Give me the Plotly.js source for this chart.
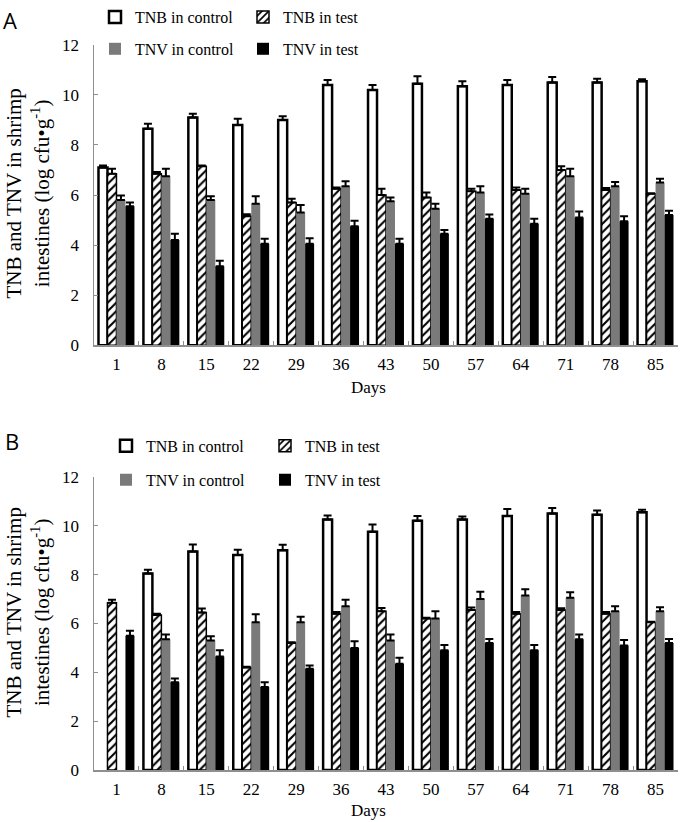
<!DOCTYPE html>
<html>
<head>
<meta charset="utf-8">
<script src="https://cdn.plot.ly/plotly-3.0.1.min.js"></script>
<style>html,body{margin:0;padding:0;background:#fff;}#chart{width:680px;height:822px;}</style>
</head>
<body>
<div id="chart"></div>
<script>
// Categories (days)
const days = ['1','8','15','22','29','36','43','50','57','64','71','78','85'];
const seriesNames = ['TNB in control','TNB in test','TNV in control','TNV in test'];

// Panel A values
const A_tnbControl = [7.1, 8.65, 9.1, 8.8, 9.0, 10.4, 10.2, 10.45, 10.35, 10.4, 10.5, 10.5, 10.55];
const A_tnbControlErr = [0.08, 0.2, 0.15, 0.25, 0.15, 0.2, 0.2, 0.3, 0.2, 0.2, 0.22, 0.15, 0.08];
const A_tnbTest = [6.85, 6.85, 7.15, 5.15, 5.7, 6.25, 6.0, 5.9, 6.15, 6.2, 7.0, 6.2, 6.05];
const A_tnbTestErr = [0.2, 0.07, 0.03, 0.08, 0.15, 0.05, 0.25, 0.2, 0.1, 0.1, 0.15, 0.08, 0.02];
const A_tnvControl = [5.8, 6.75, 5.8, 5.65, 5.3, 6.35, 5.75, 5.45, 6.1, 6.05, 6.75, 6.35, 6.5];
const A_tnvControlErr = [0.18, 0.3, 0.15, 0.3, 0.3, 0.2, 0.15, 0.2, 0.25, 0.2, 0.3, 0.17, 0.15];
const A_tnvTest = [5.55, 4.2, 3.15, 4.05, 4.05, 4.75, 4.05, 4.45, 5.05, 4.85, 5.1, 4.95, 5.2];
const A_tnvTestErr = [0.15, 0.25, 0.22, 0.2, 0.22, 0.22, 0.2, 0.15, 0.17, 0.2, 0.24, 0.2, 0.17];

// Panel B values
const B_tnbControl = [null, 8.05, 8.95, 8.8, 9.0, 10.25, 9.75, 10.2, 10.25, 10.4, 10.5, 10.45, 10.55];
const B_tnbControlErr = [null, 0.15, 0.28, 0.22, 0.22, 0.17, 0.3, 0.2, 0.13, 0.28, 0.22, 0.17, 0.1];
const B_tnbTest = [6.85, 6.35, 6.45, 4.2, 5.2, 6.4, 6.5, 6.2, 6.55, 6.4, 6.55, 6.4, 6.05];
const B_tnbTestErr = [0.12, 0.05, 0.16, 0.03, 0.03, 0.07, 0.13, 0.03, 0.1, 0.07, 0.07, 0.07, 0.02];
const B_tnvControl = [null, 5.35, 5.3, 6.05, 6.05, 6.7, 5.3, 6.2, 7.0, 7.15, 7.05, 6.5, 6.5];
const B_tnvControlErr = [null, 0.2, 0.18, 0.33, 0.23, 0.27, 0.25, 0.3, 0.3, 0.25, 0.23, 0.2, 0.16];
const B_tnvTest = [5.5, 3.6, 4.65, 3.4, 4.15, 5.0, 4.35, 4.9, 5.2, 4.9, 5.35, 5.1, 5.2];
const B_tnvTestErr = [0.2, 0.15, 0.25, 0.2, 0.13, 0.27, 0.25, 0.22, 0.16, 0.22, 0.2, 0.22, 0.16];

const yTicks = [0, 2, 4, 6, 8, 10, 12];

const SERIF = 'Liberation Serif, Times New Roman, serif';
const W = 680, H = 822;

const styles = [
  {color: '#ffffff', line: {color: '#000', width: 2.5}},
  {color: '#ffffff', line: {color: '#000', width: 1.5},
   pattern: {shape: '/', fgcolor: '#000', bgcolor: '#fff', size: 6, solidity: 0.35}},
  {color: '#7a7a7a', line: {color: '#7a7a7a', width: 0}},
  {color: '#000000', line: {color: '#000', width: 0}}
];

function zeros(n) { return new Array(n).fill(0); }

function makeTrace(i, vals, errs, xa, ya, legendId) {
  return {
    type: 'bar',
    name: seriesNames[i],
    x: days,
    y: vals,
    xaxis: xa, yaxis: ya,
    legend: legendId,
    showlegend: true,
    marker: JSON.parse(JSON.stringify(styles[i])),
    error_y: {type: 'data', symmetric: false, array: errs, arrayminus: zeros(errs.length),
              color: '#000', thickness: 2, width: 4},
    hoverinfo: 'skip'
  };
}

const traces = [
  makeTrace(0, A_tnbControl, A_tnbControlErr, 'x', 'y', 'legend'),
  makeTrace(1, A_tnbTest, A_tnbTestErr, 'x', 'y', 'legend2'),
  makeTrace(2, A_tnvControl, A_tnvControlErr, 'x', 'y', 'legend3'),
  makeTrace(3, A_tnvTest, A_tnvTestErr, 'x', 'y', 'legend4'),
  makeTrace(0, B_tnbControl, B_tnbControlErr, 'x2', 'y2', 'legend5'),
  makeTrace(1, B_tnbTest, B_tnbTestErr, 'x2', 'y2', 'legend6'),
  makeTrace(2, B_tnvControl, B_tnvControlErr, 'x2', 'y2', 'legend7'),
  makeTrace(3, B_tnvTest, B_tnvTestErr, 'x2', 'y2', 'legend8')
];

function px2x(p) { return p / W; }
function px2y(p) { return 1 - p / H; }

const axisLine = '#8f8f8f';
function xAxis(anchor) {
  return {
    type: 'category', anchor: anchor, domain: [px2x(94), px2x(678)],
    showline: true, linecolor: axisLine, linewidth: 1.5,
    ticks: 'inside', tickson: 'boundaries', ticklen: 4, tickcolor: axisLine, tickwidth: 1,
    showgrid: false, zeroline: false,
    tickfont: {family: SERIF, size: 17, color: '#000'},
    ticklabelstandoff: 3
  };
}
function yAxis(anchor, top, bottom) {
  return {
    anchor: anchor, domain: [px2y(bottom), px2y(top)], range: [0, 12],
    tickvals: yTicks, ticktext: yTicks.map(String),
    showline: true, linecolor: axisLine, linewidth: 1.5,
    ticks: 'inside', ticklen: 4, tickcolor: axisLine, tickwidth: 1,
    showgrid: false, zeroline: false,
    tickfont: {family: SERIF, size: 17, color: '#000'},
    ticklabelstandoff: 10
  };
}

function legendAt(xText, yCenter) {
  return {
    x: px2x(xText - 40), y: px2y(yCenter), xanchor: 'left', yanchor: 'middle',
    bgcolor: 'rgba(0,0,0,0)', borderwidth: 0,
    font: {family: SERIF, size: 16, color: '#000'}
  };
}

const yTitle = 'TNB and TNV in shrimp<br>intestines (log cfu•g<sup>-1</sup>)';

const layout = {
  width: W, height: H,
  margin: {l: 0, r: 0, t: 0, b: 0},
  paper_bgcolor: '#fff', plot_bgcolor: 'rgba(0,0,0,0)',
  barmode: 'group', bargap: 0.2, bargroupgap: 0,
  showlegend: true,
  xaxis: xAxis('y'),
  yaxis: yAxis('x', 43, 344),
  xaxis2: xAxis('y2'),
  yaxis2: yAxis('x2', 476, 770),
  legend: legendAt(135, 15),
  legend2: legendAt(283, 15),
  legend3: legendAt(135, 47),
  legend4: legendAt(283, 47),
  legend5: legendAt(146, 445),
  legend6: legendAt(305, 445),
  legend7: legendAt(146, 479),
  legend8: legendAt(305, 479),
  annotations: [
    {text: 'A', x: px2x(1), y: px2y(18), xref: 'paper', yref: 'paper', xanchor: 'left', yanchor: 'middle',
     showarrow: false, font: {family: 'Open Sans, sans-serif', size: 22, color: '#000'}},
    {text: 'B', x: px2x(3), y: px2y(440), xref: 'paper', yref: 'paper', xanchor: 'left', yanchor: 'middle',
     showarrow: false, font: {family: 'Open Sans, sans-serif', size: 22, color: '#000'}},
    {text: 'Days', x: px2x(368), y: px2y(386), xref: 'paper', yref: 'paper', xanchor: 'center', yanchor: 'middle',
     showarrow: false, font: {family: SERIF, size: 17, color: '#000'}},
    {text: 'Days', x: px2x(368), y: px2y(810), xref: 'paper', yref: 'paper', xanchor: 'center', yanchor: 'middle',
     showarrow: false, font: {family: SERIF, size: 17, color: '#000'}},
    {text: yTitle, textangle: -90, x: px2x(28), y: px2y(192), xref: 'paper', yref: 'paper',
     xanchor: 'center', yanchor: 'middle', showarrow: false, align: 'center',
     font: {family: SERIF, size: 21, color: '#000'}},
    {text: yTitle, textangle: -90, x: px2x(28), y: px2y(612), xref: 'paper', yref: 'paper',
     xanchor: 'center', yanchor: 'middle', showarrow: false, align: 'center',
     font: {family: SERIF, size: 21, color: '#000'}}
  ]
};

Plotly.newPlot('chart', traces, layout, {displayModeBar: false, staticPlot: true});
</script>
</body>
</html>
